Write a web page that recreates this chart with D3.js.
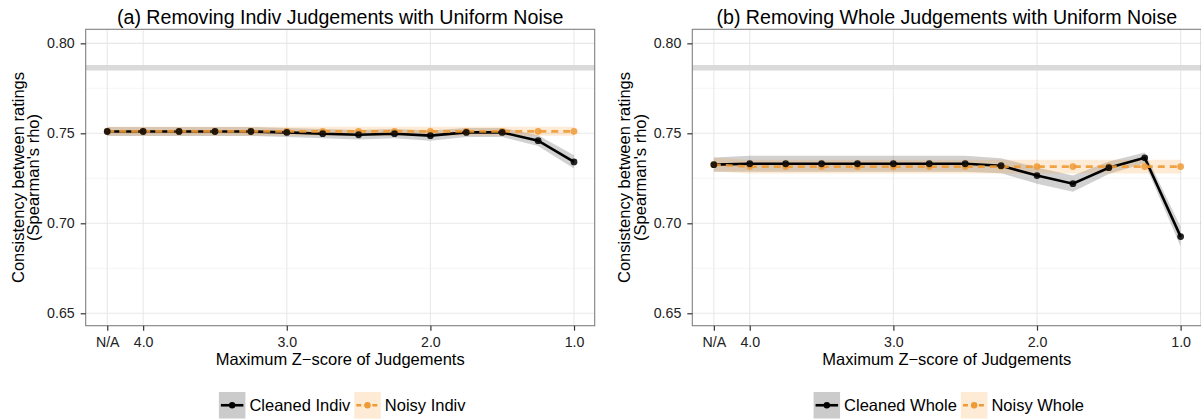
<!DOCTYPE html>
<html>
<head>
<meta charset="utf-8">
<script src="https://cdn.jsdelivr.net/npm/d3@7"></script>
<style>
    body { margin: 0; background: #fff; }
    svg { font-family: "Liberation Sans", Arial, Helvetica, sans-serif; }
</style>
</head>
<body>
<svg id="chart" width="1201" height="420"></svg>
<script>
/*globals d3 */

// x positions of the runs (first one is the "N/A" baseline run)
var zScores = [4.25, 4.0, 3.75, 3.5, 3.25, 3.0, 2.75, 2.5, 2.25, 2.0, 1.75, 1.5, 1.25, 1.0];
var xTickValues = [4.25, 4.0, 3.0, 2.0, 1.0];
var xTickLabels = ["N/A", "4.0", "3.0", "2.0", "1.0"];
var yTickValues = [0.65, 0.70, 0.75, 0.80];
var yMinorValues = [0.675, 0.725, 0.775];
var referenceRho = 0.7865;

// (a) individual judgements
var cleanedIndiv = [0.751, 0.751, 0.751, 0.751, 0.751, 0.7505, 0.7498, 0.7492, 0.7498, 0.7487, 0.7505, 0.7505, 0.7459, 0.7341];
var cleanedIndivCI = [0.0025, 0.0025, 0.0025, 0.0025, 0.0025, 0.0025, 0.0026, 0.0027, 0.0026, 0.0028, 0.0025, 0.0025, 0.003, 0.0037];
var noisyIndiv = [0.7511, 0.7511, 0.7511, 0.7511, 0.7511, 0.7511, 0.7511, 0.7511, 0.7511, 0.7511, 0.7511, 0.7511, 0.7511, 0.7511];
var noisyIndivCI = [0.0025, 0.0025, 0.0025, 0.0025, 0.0025, 0.0025, 0.0025, 0.0025, 0.0025, 0.0025, 0.0025, 0.0025, 0.0025, 0.0025];

// (b) whole judgements
var cleanedWhole = [0.7326, 0.7331, 0.7331, 0.7331, 0.7331, 0.7331, 0.7331, 0.7331, 0.7320, 0.7265, 0.7220, 0.7309, 0.7364, 0.6926];
var cleanedWholeCI = [0.004, 0.0045, 0.0045, 0.0045, 0.0045, 0.0045, 0.0045, 0.0045, 0.0042, 0.0045, 0.0045, 0.0035, 0.003, 0.0055];
var noisyWhole = [0.7326, 0.7315, 0.7315, 0.7315, 0.7315, 0.7315, 0.7315, 0.7315, 0.7315, 0.7315, 0.7315, 0.7315, 0.7315, 0.7315];
var noisyWholeCI = [0.0038, 0.0038, 0.0038, 0.0038, 0.0038, 0.0038, 0.0038, 0.0038, 0.0038, 0.0038, 0.0038, 0.0038, 0.0038, 0.0038];

var orange = "#ee9a35";

function toRows(means, ci) {
    return zScores.map(function (z, i) {
        return {z: z, v: means[i], lo: means[i] - ci[i], hi: means[i] + ci[i]};
    });
}

function drawPanel(left, opts) {
    var svg = d3.select("#chart"),
        top = 29.3,
        width = 509,
        height = 296.4,
        x = d3.scaleLinear().domain([4.40, 0.856]).range([0, width]),
        y = d3.scaleLinear().domain([0.6431, 0.8078]).range([height, 0]),
        g = svg.append("g").attr("transform", "translate(" + left + "," + top + ")"),
        clean = toRows(opts.cleaned, opts.cleanedCI),
        noisy = toRows(opts.noisy, opts.noisyCI),
        line,
        band,
        legend,
        items,
        lx;

    line = d3.line().x(function (d) { return x(d.z); }).y(function (d) { return y(d.v); });
    band = d3.area().x(function (d) { return x(d.z); })
        .y0(function (d) { return y(d.lo); })
        .y1(function (d) { return y(d.hi); });

    // Grid
    g.selectAll(".minor").data(yMinorValues).enter().append("line")
        .attr("x1", 0).attr("x2", width)
        .attr("y1", y).attr("y2", y)
        .style("stroke", "#f5f5f5").style("stroke-width", 1);
    g.selectAll(".ygrid").data(yTickValues).enter().append("line")
        .attr("x1", 0).attr("x2", width)
        .attr("y1", y).attr("y2", y)
        .style("stroke", "#e8e8e8").style("stroke-width", 1.1);
    g.selectAll(".xgrid").data(xTickValues).enter().append("line")
        .attr("y1", 0).attr("y2", height)
        .attr("x1", x).attr("x2", x)
        .style("stroke", "#e8e8e8").style("stroke-width", 1.1);

    // Reference correlation
    g.append("line")
        .attr("x1", 0).attr("x2", width)
        .attr("y1", y(referenceRho)).attr("y2", y(referenceRho))
        .style("stroke", "#dadada").style("stroke-width", 5.5);

    // Ribbons
    g.append("path").datum(clean).attr("d", band)
        .style("fill", "#7a7a7a").style("fill-opacity", 0.35);
    g.append("path").datum(noisy).attr("d", band)
        .style("fill", "#f59a30").style("fill-opacity", 0.2);

    // Lines
    g.append("path").datum(clean).attr("d", line)
        .style("fill", "none").style("stroke", "#000").style("stroke-width", 2.6);
    g.append("path").datum(noisy).attr("d", line)
        .style("fill", "none").style("stroke", orange).style("stroke-opacity", 0.9)
        .style("stroke-width", 2.6).style("stroke-dasharray", "7,5");

    // Points (noisy under cleaned)
    g.selectAll(".npt").data(noisy).enter().append("circle")
        .attr("cx", function (d) { return x(d.z); })
        .attr("cy", function (d) { return y(d.v); })
        .attr("r", 3.4).style("fill", orange).style("fill-opacity", 0.85);
    g.selectAll(".cpt").data(clean).enter().append("circle")
        .attr("cx", function (d) { return x(d.z); })
        .attr("cy", function (d) { return y(d.v); })
        .attr("r", 3.4).style("fill", "#000").style("fill-opacity", 0.85);

    // Border
    g.append("rect").attr("width", width).attr("height", height)
        .style("fill", "none").style("stroke", "#808080").style("stroke-width", 1.1);

    // Axes
    g.append("g")
        .attr("transform", "translate(0," + height + ")")
        .call(d3.axisBottom(x).tickValues(xTickValues).tickSize(5).tickPadding(6)
            .tickFormat(function (d, i) { return xTickLabels[i]; }))
        .call(function (a) {
            a.select(".domain").remove();
            a.selectAll("line").style("stroke", "#333").style("stroke-width", 1.2);
            a.selectAll("text").style("font-size", "14.2px").style("fill", "#222")
                .style("font-family", "inherit");
        });
    g.append("g")
        .call(d3.axisLeft(y).tickValues(yTickValues).tickSize(5).tickPadding(6)
            .tickFormat(d3.format(".2f")))
        .call(function (a) {
            a.select(".domain").remove();
            a.selectAll("line").style("stroke", "#333").style("stroke-width", 1.2);
            a.selectAll("text").style("font-size", "14.2px").style("fill", "#222")
                .style("font-family", "inherit");
        });

    // Titles
    svg.append("text")
        .attr("x", left + width / 2).attr("y", 24)
        .attr("text-anchor", "middle")
        .style("font-size", "19.6px").style("fill", "#000")
        .text(opts.title);
    svg.append("text")
        .attr("x", left + width / 2).attr("y", 365)
        .attr("text-anchor", "middle")
        .style("font-size", "16.5px").style("fill", "#000")
        .text("Maximum Z\u2212score of Judgements");
    svg.append("text")
        .attr("transform", "translate(" + (left - 62) + "," + (top + height / 2) + ") rotate(-90)")
        .attr("text-anchor", "middle")
        .style("font-size", "16.5px").style("fill", "#000")
        .selectAll("tspan")
        .data(["Consistency between ratings", "(Spearman's rho)"])
        .enter().append("tspan")
        .attr("x", 0)
        .attr("dy", function (d, i) { return i === 0 ? 0 : "0.95em"; })
        .text(function (d) { return d; });

    // Legend
    legend = svg.append("g").attr("transform", "translate(0,392)");
    items = [
        {label: opts.cleanName, fill: "#cbcbcb", stroke: "#000", dash: null, pt: "#000"},
        {label: opts.noisyName, fill: "#fdebd6", stroke: orange, dash: "5,3", pt: orange}
    ];
    lx = 0;
    items.forEach(function (it) {
        var item = legend.append("g").attr("transform", "translate(" + lx + ",0)"),
            t;
        item.append("rect").attr("width", 26.5).attr("height", 26.5).style("fill", it.fill);
        item.append("line").attr("x1", 2).attr("x2", 24.5).attr("y1", 13.25).attr("y2", 13.25)
            .style("stroke", it.stroke).style("stroke-width", 2.6)
            .style("stroke-dasharray", it.dash);
        item.append("circle").attr("cx", 13.25).attr("cy", 13.25).attr("r", 3.2).style("fill", it.pt);
        t = item.append("text").attr("x", 30.5).attr("y", 19.2)
            .style("font-size", "16.5px").style("fill", "#000").text(it.label);
        lx += 30.5 + t.node().getComputedTextLength() + 4;
    });
    legend.attr("transform", "translate(" + (left + width / 2 - lx / 2 + 4) + ",392)");
}

drawPanel(85.7, {
    title: "(a) Removing Indiv Judgements with Uniform Noise",
    cleaned: cleanedIndiv, cleanedCI: cleanedIndivCI,
    noisy: noisyIndiv, noisyCI: noisyIndivCI,
    cleanName: "Cleaned Indiv", noisyName: "Noisy Indiv"
});
drawPanel(692.3, {
    title: "(b) Removing Whole Judgements with Uniform Noise",
    cleaned: cleanedWhole, cleanedCI: cleanedWholeCI,
    noisy: noisyWhole, noisyCI: noisyWholeCI,
    cleanName: "Cleaned Whole", noisyName: "Noisy Whole"
});
</script>
</body>
</html>
